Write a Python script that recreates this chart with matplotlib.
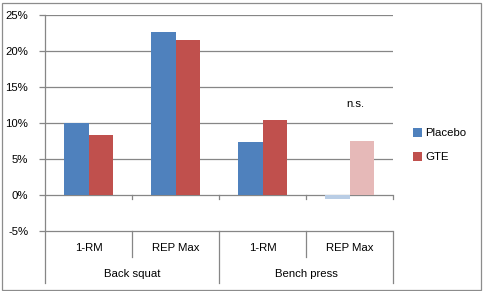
import matplotlib
matplotlib.use("Agg")
import matplotlib.pyplot as plt
from matplotlib.patches import Rectangle, Patch
import numpy as np

plt.rcParams['font.family'] = ['Liberation Sans', 'DejaVu Sans']

sub_labels = ["1-RM", "REP Max", "1-RM", "REP Max"]
group_labels = ["Back squat", "Bench press"]
placebo = [10.0, 22.7, 7.4, -0.5]
gte = [8.4, 21.6, 10.45, 7.5]
yticks = [-5, 0, 5, 10, 15, 20, 25]
ns_label = "n.s."

blue = '#4f81bd'
red = '#c0504d'
blue_faded = '#b9cde5'
red_faded = '#e6b9b8'
gray = '#868686'
fs = 8.2

W, H = 483, 291
fig = plt.figure(figsize=(W / 100, H / 100), dpi=100)
# axes: x 45..393 px, y 15.3..283 px (top-down)
left, right, top, bottom = 45, 393, 15.3, 283
ax = fig.add_axes([left / W, 1 - bottom / H, (right - left) / W, (bottom - top) / H])
ymin = -(bottom - 195.3) / 7.2
ax.set_ylim(ymin, 25)
ax.set_xlim(-0.5, 3.5)

x = np.arange(len(sub_labels))
w = 0.28
pc = [blue, blue, blue, blue_faded]
gc = [red, red, red, red_faded]
ax.bar(x - w / 2, placebo, width=w, color=pc, zorder=3)
ax.bar(x + w / 2, gte, width=w, color=gc, zorder=3)

for yv in yticks:
    ax.axhline(yv, color=gray, lw=0.9, zorder=2)

for s in ['top', 'right', 'bottom']:
    ax.spines[s].set_visible(False)
ax.spines['left'].set_color(gray)
ax.spines['left'].set_linewidth(0.9)
ax.set_yticks(yticks)
ax.set_yticklabels([f"{v}%" for v in yticks], fontsize=fs)
ax.tick_params(axis='y', length=4, color=gray, width=0.9, pad=8)
ax.set_xticks([])

lvl1 = -(257 - 195.3) / 7.2
# ticks at 0 line
for xs in [0.5, 1.5, 2.5, 3.5]:
    ax.plot([xs, xs], [0, -0.55], color=gray, lw=0.9, clip_on=False, zorder=2)
# separators in label area
for xs in [0.5, 2.5]:
    ax.plot([xs, xs], [-5, lvl1], color=gray, lw=0.9, clip_on=False, zorder=2)
for xs in [1.5, 3.5]:
    ax.plot([xs, xs], [-5, ymin], color=gray, lw=0.9, clip_on=False, zorder=2)

y1 = -(248 - 195.3) / 7.2
y2 = -(274 - 195.3) / 7.2
for xi, lab in zip(x, sub_labels):
    ax.text(xi, y1, lab, ha='center', va='center', fontsize=fs)
for gi, lab in enumerate(group_labels):
    ax.text(gi * 2 + 0.5, y2, lab, ha='center', va='center', fontsize=fs)

ax.text(3.07, 12.7, ns_label, ha='center', va='center', fontsize=fs)

handles = [Patch(facecolor=blue, label='Placebo'), Patch(facecolor=red, label='GTE')]
fig.legend(handles=handles, loc='center left',
           bbox_to_anchor=(413 / W, 1 - 145 / H), frameon=False, fontsize=fs,
           handlelength=0.8, handleheight=0.8, handletextpad=0.3,
           labelspacing=1.2, borderpad=0, borderaxespad=0)

fig.patches.append(Rectangle((1.5 / W, 1.5 / H), (W - 4) / W, (H - 4) / H,
                             transform=fig.transFigure, fill=False,
                             edgecolor='#8c8c8c', lw=0.9))

fig.savefig('out.png', dpi=100)
